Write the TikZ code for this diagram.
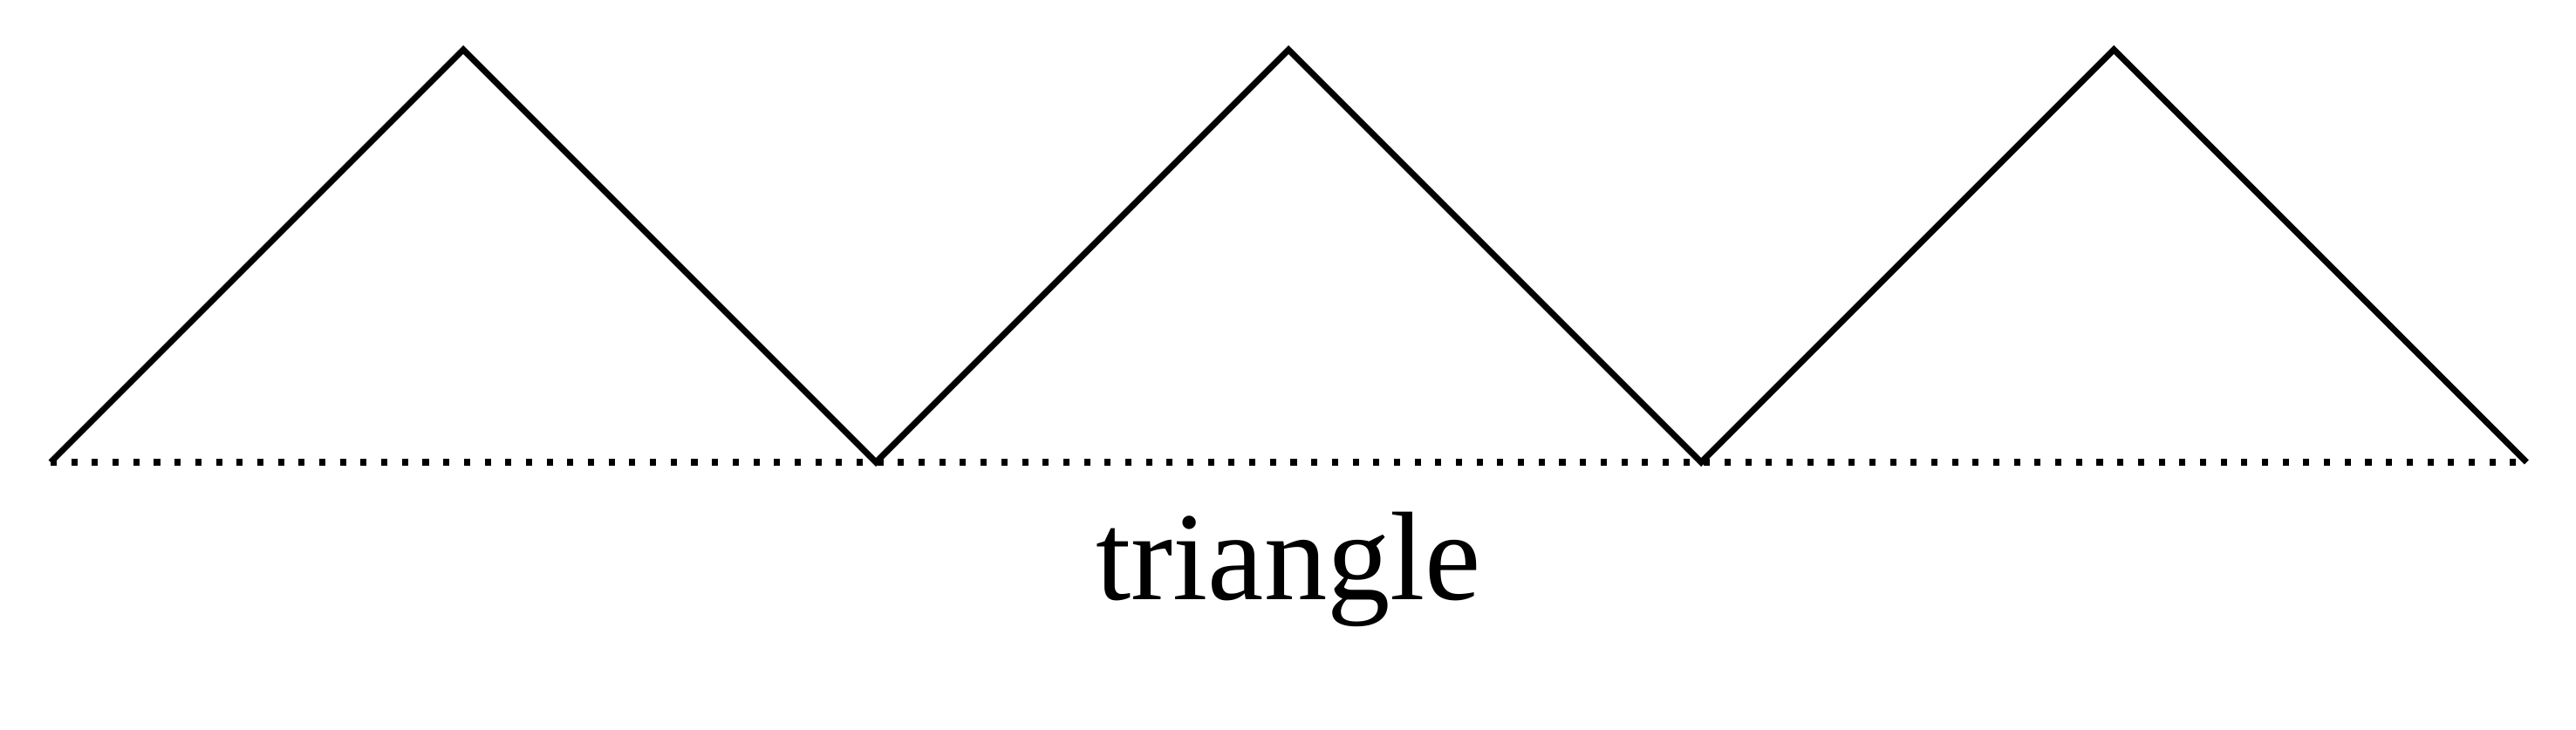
\documentclass[tikz,border=0pt]{standalone}
\usepackage{fontspec}
\setmainfont{Liberation Serif}
\usepackage{tikz}
\usetikzlibrary{positioning}
\tikzstyle{l1}=[line width=0.85pt, line join=miter]
\tikzstyle{base}=[line width=0.85pt, dotted]
\tikzstyle{caption}=[inner sep=0pt, anchor=base, font=\fontsize{17.4}{21}\selectfont]

\begin{document}
\begin{tikzpicture}[x=2cm,y=2cm]
    \useasboundingbox (-0.1226,-0.647) rectangle (6.120,1.1205);
    \coordinate (v0) at (0,0);
    \coordinate (t1) at (1,1);
    \coordinate (v1) at (2,0);
    \coordinate (t2) at (3,1);
    \coordinate (v2) at (4,0);
    \coordinate (t3) at (5,1);
    \coordinate (v3) at (6,0);
    \draw[l1] (v0) -- (t1) -- (v1) -- (t2) -- (v2) -- (t3) -- (v3);
    \draw[base] (v0) -- (v3);
    \node (lbl) [caption] at (3.0,-0.332) {triangle};
\end{tikzpicture}
\end{document}
